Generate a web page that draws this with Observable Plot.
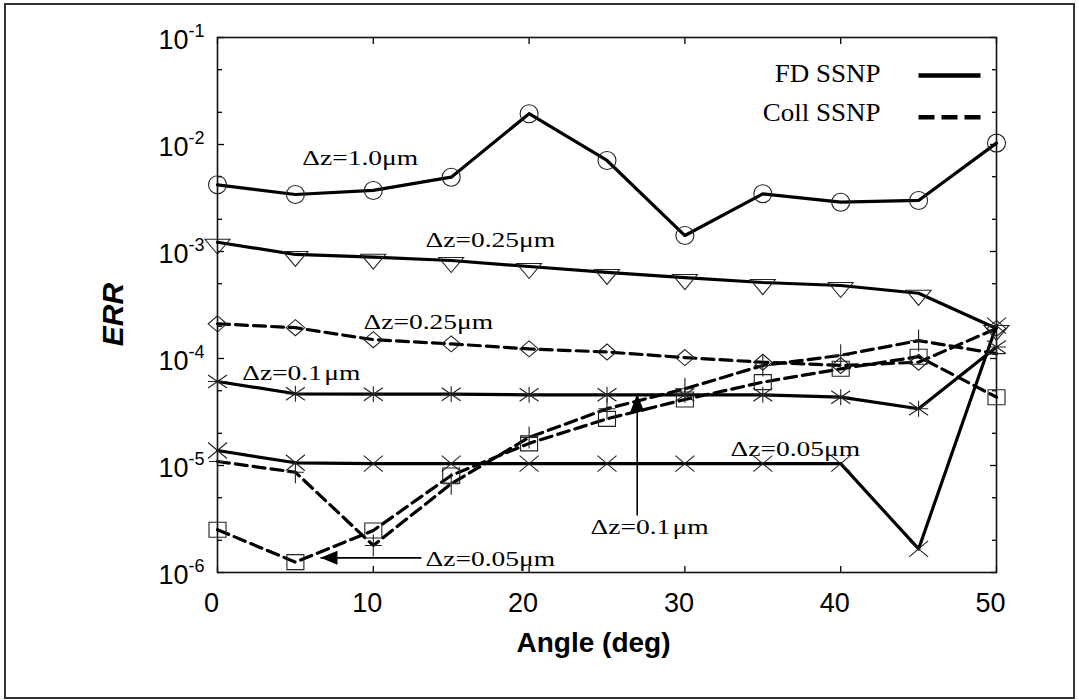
<!DOCTYPE html>
<html><head><meta charset="utf-8">
<script src="https://cdn.jsdelivr.net/npm/d3@7"></script>
<script src="https://cdn.jsdelivr.net/npm/@observablehq/plot@0.6"></script>
<style>
html,body{margin:0;padding:0;background:#fff;overflow:hidden}
#wrap{position:relative;width:1079px;height:700px}
#border{position:absolute;left:4px;top:3px;width:1071px;height:696px;border:2px solid #333;box-sizing:border-box;pointer-events:none}
</style></head><body>
<div id="wrap"><div id="border"></div></div>
<script>
// ---------- data ----------
const angle = [0, 5, 10, 15, 20, 25, 30, 35, 40, 45, 50];
const fdDz100  = [4.20e-3, 3.41e-3, 3.72e-3, 4.95e-3, 1.94e-2, 7.09e-3, 1.41e-3, 3.46e-3, 2.89e-3, 3.00e-3, 1.03e-2];
const fdDz025  = [1.22e-3, 9.38e-4, 8.85e-4, 8.24e-4, 7.24e-4, 6.37e-4, 5.71e-4, 5.13e-4, 4.81e-4, 4.07e-4, 1.91e-4];
const collDz025 = [2.11e-4, 1.94e-4, 1.50e-4, 1.37e-4, 1.23e-4, 1.15e-4, 1.02e-4, 9.23e-5, 8.6e-5, 9.23e-5, 1.91e-4];
const fdDz010  = [6.10e-5, 4.68e-5, 4.64e-5, 4.64e-5, 4.58e-5, 4.58e-5, 4.58e-5, 4.58e-5, 4.35e-5, 3.39e-5, 1.28e-4];
const fdDz005  = [1.38e-5, 1.06e-5, 1.04e-5, 1.04e-5, 1.04e-5, 1.04e-5, 1.04e-5, 1.04e-5, 1.04e-5, 1.66e-6, 2.03e-4];
const collDz010 = [1.09e-5, 8.65e-6, 1.79e-6, 6.75e-6, 1.83e-5, 3.39e-5, 5.21e-5, 8.6e-5, 1.07e-4, 1.47e-4, 1.11e-4];
const collDz005 = [2.51e-6, 1.25e-6, 2.47e-6, 8.07e-6, 1.61e-5, 2.73e-5, 4.14e-5, 6.01e-5, 8.01e-5, 1.04e-4, 4.35e-5];

const methods = ["FD SSNP", "Coll SSNP"];
const xTicks = [0, 10, 20, 30, 40, 50];
const yMajor = [1e-6, 1e-5, 1e-4, 1e-3, 1e-2, 1e-1];
const yMinor = [2e-6, 5e-6, 2e-5, 5e-5, 2e-4, 5e-4, 2e-3, 5e-3, 2e-2, 5e-2];

// annotation labels (anchored at left edge / baseline, in data coordinates)
const annotLabels = ["Δz=1.0μm", "Δz=0.25μm", "Δz=0.25μm", "Δz=0.1\u200Aμm", "Δz=0.05μm", "Δz=0.1\u200Aμm", "Δz=0.05μm"];
const annotX = [5.44, 13.35, 9.37, 1.585, 32.93, 23.94, 13.35];
const annotY = [6.37e-3, 1.10e-3, 1.87e-4, 6.32e-5, 1.24e-5, 2.30e-6, 1.16e-6];
// arrows: from (x1,y1) to tip (x2,y2)
const arrowX1 = [13.09, 26.94];
const arrowY1 = [1.37e-6, 3.41e-6];
const arrowX2 = [6.61, 26.94];
const arrowY2 = [1.37e-6, 4.68e-5];

// ---------- symbols ----------
const sym = {
  circle:  {draw(c){ c.moveTo(9, 0); c.arc(0, 0, 9, 0, 2 * Math.PI); }},
  triDown: {draw(c){ c.moveTo(-12.5, -3); c.lineTo(12.5, -3); c.lineTo(0, 12); c.closePath(); }},
  diamond: {draw(c){ c.moveTo(0, -8); c.lineTo(9.3, 0); c.lineTo(0, 8); c.lineTo(-9.3, 0); c.closePath(); }},
  aster:   {draw(c){ c.moveTo(-9.5, 0); c.lineTo(9.5, 0); c.moveTo(0, -8); c.lineTo(0, 8);
                     c.moveTo(-9.5, -6.5); c.lineTo(9.5, 6.5); c.moveTo(-9.5, 6.5); c.lineTo(9.5, -6.5); }},
  times:   {draw(c){ c.moveTo(-9.5, -8); c.lineTo(9.5, 8); c.moveTo(-9.5, 8); c.lineTo(9.5, -8); }},
  plus:    {draw(c){ c.moveTo(-8.5, 0); c.lineTo(8.5, 0); c.moveTo(0, -11); c.lineTo(0, 11); }},
  square:  {draw(c){ c.rect(-8.5, -7.5, 17, 15); }},
  arrowL:  {draw(c){ c.moveTo(0, 0); c.lineTo(17, -7); c.lineTo(17, 7); c.closePath(); }},
  arrowU:  {draw(c){ c.moveTo(0, 0); c.lineTo(-7, 18); c.lineTo(7, 18); c.closePath(); }},
  legLine: {draw(c){ c.moveTo(-31, 0); c.lineTo(31, 0); }}
};

const series = [
  {key: "FD 1.0",    values: fdDz100,   method: methods[0], symbol: sym.circle},
  {key: "FD 0.25",   values: fdDz025,   method: methods[0], symbol: sym.triDown},
  {key: "Coll 0.25", values: collDz025, method: methods[1], symbol: sym.diamond},
  {key: "FD 0.1",    values: fdDz010,   method: methods[0], symbol: sym.aster},
  {key: "FD 0.05",   values: fdDz005,   method: methods[0], symbol: sym.times},
  {key: "Coll 0.1",  values: collDz010, method: methods[1], symbol: sym.plus},
  {key: "Coll 0.05", values: collDz005, method: methods[1], symbol: sym.square}
];
const rows = series.flatMap(s => angle.map((a, i) => ({angle: a, err: s.values[i], series: s.key, method: s.method})));
const annots = annotLabels.map((label, i) => ({label, x: annotX[i], y: annotY[i]}));
const arrows = arrowX1.map((x1, i) => ({x1, y1: arrowY1[i], x2: arrowX2[i], y2: arrowY2[i]}));

const sans = "'Liberation Sans', Arial, Helvetica, sans-serif";
const serif = "'Liberation Serif', 'Times New Roman', serif";

const chart = Plot.plot({
  width: 1079, height: 700,
  marginLeft: 217, marginRight: 83, marginTop: 37, marginBottom: 128,
  style: {fontFamily: sans, fontSize: "27px", background: "white", color: "black", overflow: "visible"},
  x: {domain: [0, 50]},
  y: {type: "log", domain: [1e-6, 1e-1]},
  marks: [
    // inward ticks
    Plot.axisX({anchor: "bottom", ticks: xTicks, tickSize: -6, fill: "none", label: null, strokeWidth: 1.3}),
    Plot.axisX({anchor: "top", ticks: xTicks, tickSize: -6, fill: "none", label: null, strokeWidth: 1.3}),
    Plot.axisY({anchor: "left", ticks: yMajor, tickSize: -7, fill: "none", label: null, strokeWidth: 1.3}),
    Plot.axisY({anchor: "left", ticks: yMinor, tickSize: -5, fill: "none", label: null, strokeWidth: 1.3}),
    Plot.axisY({anchor: "right", ticks: yMajor, tickSize: -7, fill: "none", label: null, strokeWidth: 1.3}),
    Plot.axisY({anchor: "right", ticks: yMinor, tickSize: -5, fill: "none", label: null, strokeWidth: 1.3}),
    // tick labels
    Plot.axisX({anchor: "bottom", ticks: xTicks, tickSize: 0, tickPadding: 20, dx: -6, label: null, fontSize: 27, tickFormat: d => String(d)}),
    Plot.axisY({anchor: "left", ticks: yMajor, tickSize: 0, tickPadding: 13, dy: 3, label: null, fontSize: 27,
                tickFormat: d => "10^" + Math.round(Math.log10(d))}),
    Plot.frame({stroke: "#111", strokeWidth: 1.6}),
    // axis titles
    Plot.text(["Angle (deg)"], {frameAnchor: "bottom", dx: -13.5, dy: 79, lineAnchor: "bottom", fontWeight: "bold", fontSize: 28, fontFamily: sans}),
    Plot.text(["ERR"], {frameAnchor: "left", dx: -104, dy: 9.5, rotate: -90, textAnchor: "middle", lineAnchor: "middle",
                        fontWeight: "bold", fontStyle: "italic", fontSize: 30, fontFamily: sans}),
    // data lines
    Plot.line(rows.filter(d => d.method === methods[0]), {x: "angle", y: "err", z: "series", stroke: "#000", strokeWidth: 3.2, strokeLinejoin: "round"}),
    Plot.line(rows.filter(d => d.method === methods[1]), {x: "angle", y: "err", z: "series", stroke: "#000", strokeWidth: 3.2, strokeDasharray: "12,6"}),
    // markers
    ...series.map(s => Plot.dot(rows.filter(d => d.series === s.key), {x: "angle", y: "err", symbol: s.symbol, r: 5, fill: "none", stroke: "#222", strokeWidth: 1.1})),
    // annotations
    Plot.text(annots, {x: "x", y: "y", text: "label", textAnchor: "start", lineAnchor: "bottom", fontFamily: serif, fontSize: 21, fill: "#000"}),
    Plot.link(arrows, {x1: "x1", y1: "y1", x2: "x2", y2: "y2", stroke: "#000", strokeWidth: 1.6}),
    Plot.dot(arrows.slice(0, 1), {x: "x2", y: "y2", symbol: sym.arrowL, fill: "#000", stroke: "none"}),
    Plot.dot(arrows.slice(1, 2), {x: "x2", y: "y2", symbol: sym.arrowU, fill: "#000", stroke: "none"}),
    // legend
    Plot.text([methods[0]], {frameAnchor: "top-right", dx: -116, dy: 44.7, textAnchor: "end", lineAnchor: "bottom", fontFamily: serif, fontSize: 25}),
    Plot.text([methods[1]], {frameAnchor: "top-right", dx: -116, dy: 83.7, textAnchor: "end", lineAnchor: "bottom", fontFamily: serif, fontSize: 25}),
    Plot.dot([methods[0]], {frameAnchor: "top-right", dx: -47, dy: 38, symbol: sym.legLine, fill: "none", stroke: "#000", strokeWidth: 4.5}),
    Plot.dot([methods[1]], {frameAnchor: "top-right", dx: -47, dy: 79.7, symbol: sym.legLine, fill: "none", stroke: "#000", strokeWidth: 4.5, strokeDasharray: "16,7"})
  ]
});

// superscript exponents on y tick labels; horizontal stretch of serif labels
d3.select(chart).selectAll("text").each(function () {
  const t = d3.select(this);
  const s = t.text();
  if (s.startsWith("10^")) {
    const e = s.slice(3);
    t.text(null);
    t.append("tspan").text("10");
    t.append("tspan").attr("dy", -12).attr("font-size", 18).text(e);
  } else if (s.includes("Δz")) {
    t.attr("transform", (t.attr("transform") || "") + " scale(1.31,1)");
  } else if (s === methods[0] || s === methods[1]) {
    t.attr("transform", (t.attr("transform") || "") + " scale(1.08,1)");
  }
});

document.getElementById("wrap").prepend(chart);
</script>
</body></html>
